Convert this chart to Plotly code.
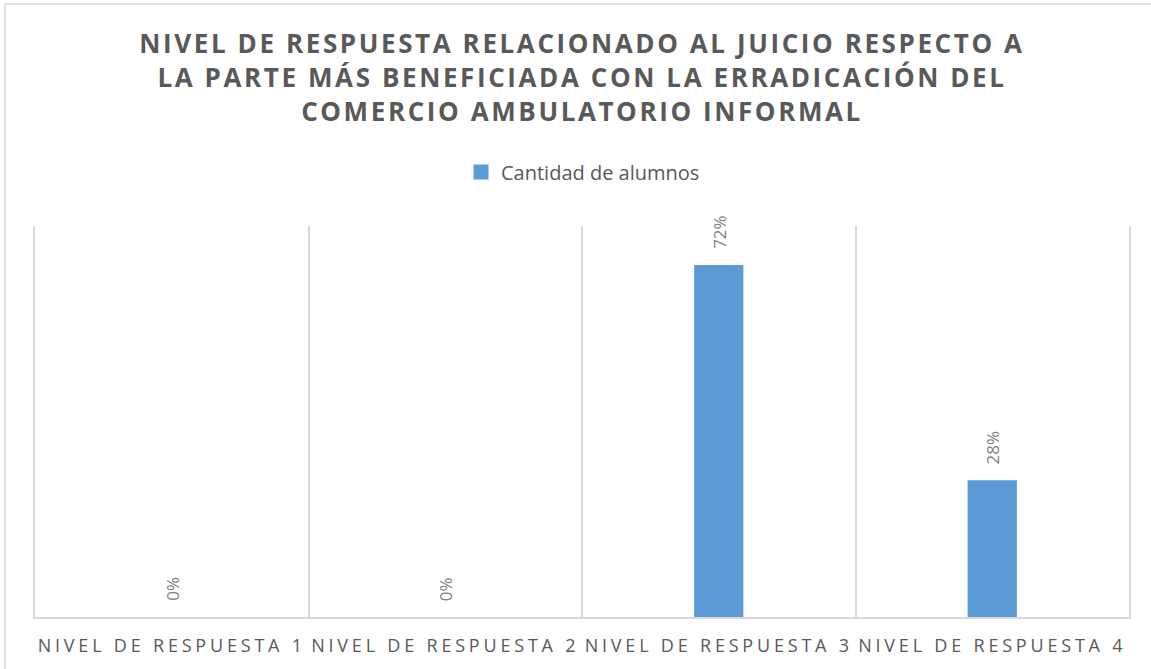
import plotly.graph_objects as go

categories = ["NIVEL DE RESPUESTA 1", "NIVEL DE RESPUESTA 2", "NIVEL DE RESPUESTA 3", "NIVEL DE RESPUESTA 4"]
values = [0.0, 0.0, 0.72, 0.28]
labels = ["0%", "0%", "72%", "28%"]
series_name = "Cantidad de alumnos"
title_lines = [
    "NIVEL DE RESPUESTA RELACIONADO AL JUICIO RESPECTO A",
    "LA PARTE MÁS BENEFICIADA CON LA ERRADICACIÓN DEL",
    "COMERCIO AMBULATORIO INFORMAL",
]

W, H = 1151, 669
L, R, T, B = 35, 22, 226, 52
PW, PH = W - L - R, H - T - B
FONT = "Open Sans"
BAR = "#5B9BD5"
GRID = "#D9D9D9"

def spaced(s, px):
    return f'<span style="letter-spacing:{px}px">{s}</span>'

def px_x(x):
    return (x - L) / PW

def px_y(y):
    return (H - B - y) / PH

fig = go.Figure()
fig.add_trace(go.Bar(
    x=categories, y=values, name=series_name,
    marker=dict(color=BAR, line=dict(width=0)),
    width=0.18, showlegend=False,
))
# legend entry (square swatch like the original)
fig.add_trace(go.Scatter(
    x=[None], y=[None], mode="markers", name=series_name,
    marker=dict(symbol="square", size=15, color=BAR, line=dict(width=0)),
    showlegend=True, hoverinfo="skip",
))

for c, v, t in zip(categories, values, labels):
    fig.add_annotation(
        x=c, y=v, xref="x", yref="y", text=t, showarrow=False,
        textangle=-90, yanchor="bottom", xanchor="center", yshift=14,
        font=dict(family=FONT, size=17, color="#7F7F7F"),
    )

title_text = "<br>".join(spaced(s, 2.6) for s in title_lines)

fig.update_layout(
    width=W, height=H,
    margin=dict(l=L, r=R, t=T, b=B, autoexpand=False),
    paper_bgcolor="white", plot_bgcolor="white",
    title=dict(
        text="<b>" + title_text + "</b>",
        x=0.5, xref="paper", xanchor="center",
        y=1 - 53 / H, yref="container", yanchor="top",
        font=dict(family=FONT, size=26, color="#595959"),
    ),
    legend=dict(
        orientation="h", x=px_x(461), xanchor="left",
        y=px_y(172), yanchor="middle",
        font=dict(family=FONT, size=20, color="#595959"),
        itemwidth=30, itemsizing="trace",
        bgcolor="rgba(0,0,0,0)",
    ),
    xaxis=dict(
        type="category", tickson="boundaries", showgrid=True, gridcolor=GRID, gridwidth=1.5,
        showline=True, linecolor=GRID, linewidth=1.5, ticks="",
        tickfont=dict(family=FONT, size=18, color="#595959"),
        ticktext=[spaced(c, 3.8) for c in categories], tickvals=categories,
        tickangle=0, ticklabelstandoff=12,
    ),
    yaxis=dict(
        range=[0, 0.8], showgrid=False, showticklabels=False, zeroline=False,
        showline=True, mirror=True, linecolor=GRID, linewidth=1.5, ticks="",
    ),
)

# outer chart border (light gray), partially visible
fig.add_shape(
    type="rect", xref="paper", yref="paper",
    x0=px_x(5), x1=px_x(W + 20),
    y0=px_y(H + 20), y1=px_y(4),
    line=dict(color=GRID, width=1.5), fillcolor="rgba(0,0,0,0)", layer="below",
)

fig.write_html("out.html", config={"displayModeBar": False},
               post_script="document.body.style.margin='0';")
